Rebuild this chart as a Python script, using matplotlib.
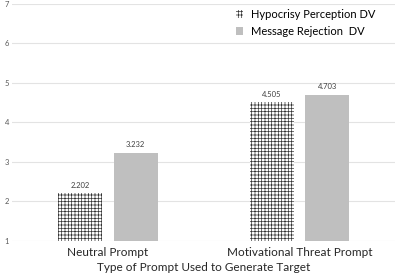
import numpy as np
import matplotlib.pyplot as plt

plt.rcParams['font.family'] = ['Lato', 'DejaVu Sans']
plt.rcParams['hatch.linewidth'] = 0.5

categories = ['Neutral Prompt', 'Motivational Threat Prompt']
series_names = ['Hypocrisy Perception DV', 'Message Rejection  DV']
hypocrisy = [2.202, 4.505]
rejection = [3.232, 4.703]
value_labels = [['2.202', '4.505'], ['3.232', '4.703']]
yticks = [1, 2, 3, 4, 5, 6, 7]

fig = plt.figure(figsize=(4.0, 2.76), dpi=100)
ax = fig.add_axes([0.03, 0.127, 0.958, 0.859])

x = np.arange(len(categories))
w = 0.23
off = 0.145
b1 = ax.bar(x - off, np.array(hypocrisy) - 1, w, bottom=1, facecolor='white',
            edgecolor='#333333', hatch='+++++', linewidth=0, label=series_names[0])
b2 = ax.bar(x + off, np.array(rejection) - 1, w, bottom=1, color='#bfbfbf',
            label=series_names[1])

for bars, labs in zip([b1, b2], value_labels):
    for r, t in zip(bars, labs):
        ax.text(r.get_x() + r.get_width() / 2, r.get_y() + r.get_height() + 0.12, t,
                ha='center', va='bottom', fontsize=5.5, color='#404040')

ax.set_xlim(-0.5, 1.5)
ax.set_ylim(1, 7)
ax.set_yticks(yticks)
ax.set_yticklabels([str(v) for v in yticks], fontsize=5.5, color='#595959')
ax.set_xticks(x)
ax.set_xticklabels(categories, fontsize=8.5, color='#262626')
ax.tick_params(axis='both', length=0)
ax.tick_params(axis='y', pad=2)
ax.tick_params(axis='x', pad=4)
for s in ax.spines.values():
    s.set_visible(False)
ax.grid(axis='y', color='#e3e3e3', linewidth=0.8)
ax.set_axisbelow(True)
ax.set_xlabel('Type of Prompt Used to Generate Target', fontsize=8.5, color='#262626', labelpad=3)

ax.legend(loc='upper right', bbox_to_anchor=(0.975, 1.02), frameon=False, fontsize=8,
          handlelength=0.7, handleheight=0.7, labelspacing=0.5, handletextpad=0.7)

fig.savefig('out.png', dpi=100)
